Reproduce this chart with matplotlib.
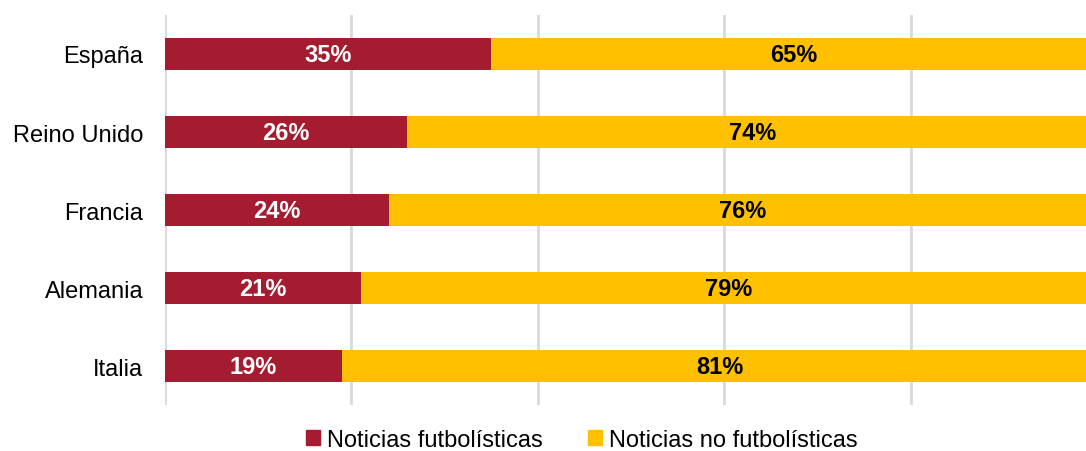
import matplotlib
matplotlib.use("Agg")
import matplotlib.pyplot as plt
from matplotlib.patches import Patch

plt.rcParams['font.family'] = ['Liberation Sans', 'DejaVu Sans']

countries = ["España", "Reino Unido", "Francia", "Alemania", "Italia"]
futbol = [35, 26, 24, 21, 19]
no_futbol = [65, 74, 76, 79, 81]
series_names = ["Noticias futbolísticas", "Noticias no futbolísticas"]
colors = ["#A51C30", "#FFC000"]

fig = plt.figure(figsize=(10.86, 4.52), dpi=100)
ax = fig.add_axes([165/1086, 46/452, 932/1086, 390/452])

y = list(range(len(countries)))
h = 0.4
b1 = ax.barh(y, futbol, height=h, color=colors[0], zorder=3)
b2 = ax.barh(y, no_futbol, left=futbol, height=h, color=colors[1], zorder=3)

for yi, f, n in zip(y, futbol, no_futbol):
    ax.text(f/2, yi, f"{f}%", ha='center', va='center', color='white',
            fontsize=17, fontweight='bold', zorder=4)
    ax.text(f + n/2, yi, f"{n}%", ha='center', va='center', color='black',
            fontsize=17, fontweight='bold', zorder=4)

ax.set_xlim(0, 100)
ax.set_ylim(len(countries) - 0.5, -0.5)
ax.set_yticks(y)
ax.set_yticklabels(countries, fontsize=17)
ax.set_xticks([0, 20, 40, 60, 80, 100])
ax.tick_params(axis='x', bottom=False, labelbottom=False)
ax.tick_params(axis='y', left=False, pad=12)
ax.grid(axis='x', color='#D9D9D9', linewidth=2, zorder=0)
for s in ax.spines.values():
    s.set_visible(False)

handles = [Patch(color=colors[0]), Patch(color=colors[1])]
fig.legend(handles, series_names, loc='center', bbox_to_anchor=(582/1086, 1 - 441/452),
           ncol=2, frameon=False, fontsize=17, handlelength=0.6, handleheight=0.6,
           handletextpad=0.3, columnspacing=1.9)

fig.savefig("out.png", dpi=100)
